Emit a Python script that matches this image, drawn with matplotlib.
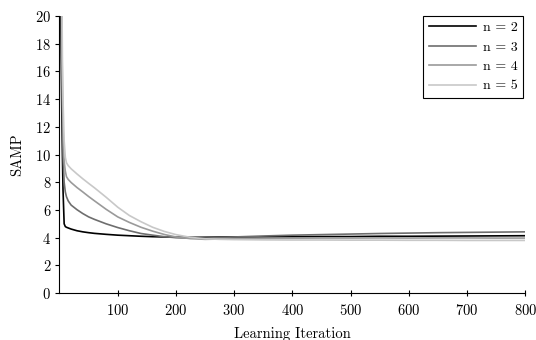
import matplotlib.pyplot as plt

plt.rcParams["font.family"] = ["cmr10", "DejaVu Serif"]
plt.rcParams["axes.formatter.use_mathtext"] = True
plt.rcParams["mathtext.fontset"] = "cm"

ITERATIONS = [1, 2, 3, 4, 5, 6, 8, 10, 12, 15, 20, 30, 40, 50, 60, 80, 100,
              120, 140, 160, 180, 200, 225, 250, 275, 300, 350, 400, 450,
              500, 550, 600, 650, 700, 750, 800]

SAMP_N2 = [30, 22, 17, 13, 10, 7.5, 5.0, 4.8, 4.75, 4.7, 4.62, 4.5, 4.42,
           4.36, 4.31, 4.24, 4.18, 4.14, 4.1, 4.07, 4.05, 4.03, 4.02, 4.03,
           4.04, 4.05, 4.06, 4.07, 4.08, 4.08, 4.1, 4.1, 4.11, 4.12, 4.13,
           4.14]
SAMP_N3 = [35, 28, 22, 17, 13, 10, 8.0, 7.3, 6.95, 6.65, 6.35, 6.02, 5.74,
           5.5, 5.32, 5.0, 4.73, 4.5, 4.3, 4.18, 4.07, 4.0, 3.96, 3.97,
           4.0, 4.05, 4.12, 4.18, 4.22, 4.26, 4.3, 4.33, 4.36, 4.38, 4.4,
           4.42]
SAMP_N4 = [40, 32, 25, 19, 15, 12, 9.5, 8.8, 8.4, 8.2, 7.98, 7.62, 7.3,
           6.97, 6.66, 6.05, 5.5, 5.1, 4.75, 4.47, 4.23, 4.05, 3.93, 3.88,
           3.9, 3.92, 3.95, 3.96, 3.97, 3.97, 3.98, 3.97, 3.98, 3.98, 3.97,
           3.97]
SAMP_N5 = [45, 36, 28, 22, 17, 14, 11, 9.8, 9.4, 9.2, 8.97, 8.6, 8.25,
           7.92, 7.6, 6.92, 6.2, 5.6, 5.15, 4.75, 4.45, 4.22, 4.02, 3.92,
           3.88, 3.86, 3.84, 3.83, 3.83, 3.82, 3.82, 3.81, 3.81, 3.8, 3.8,
           3.8]

SERIES = [
    ("n = 2", SAMP_N2, "black"),
    ("n = 3", SAMP_N3, "#6e6e6e"),
    ("n = 4", SAMP_N4, "#9a9a9a"),
    ("n = 5", SAMP_N5, "#c8c8c8"),
]


def main():
    fig = plt.figure(figsize=(5.36, 3.40), dpi=100)
    ax = fig.add_axes([0.111, 0.138, 0.869, 0.815])

    for label, values, color in SERIES:
        ax.plot(ITERATIONS, values, color=color, linewidth=1.2, label=label)

    ax.set_xlim(0, 800)
    ax.set_ylim(0, 20)
    ax.set_xticks(range(100, 801, 100))
    ax.set_yticks(range(0, 21, 2))
    ax.spines["top"].set_visible(False)
    ax.spines["right"].set_visible(False)
    ax.tick_params(axis="x", direction="inout", length=5, width=0.8,
                   labelsize=10.5, pad=5)
    ax.tick_params(axis="y", direction="out", length=3, width=0.8,
                   labelsize=10.5, pad=3)
    ax.set_xlabel("Learning Iteration", fontsize=10.5, labelpad=6)
    ax.set_ylabel("SAMP", fontsize=10.5, labelpad=8)

    leg = ax.legend(loc="upper right", bbox_to_anchor=(0.995, 1.0),
                    fontsize=10, handlelength=3.4, handletextpad=0.45,
                    fancybox=False, framealpha=1, edgecolor="black",
                    borderaxespad=0.0, labelspacing=0.48, borderpad=0.4)
    leg.get_frame().set_linewidth(0.8)

    fig.savefig("out.png", dpi=100)


if __name__ == "__main__":
    main()
